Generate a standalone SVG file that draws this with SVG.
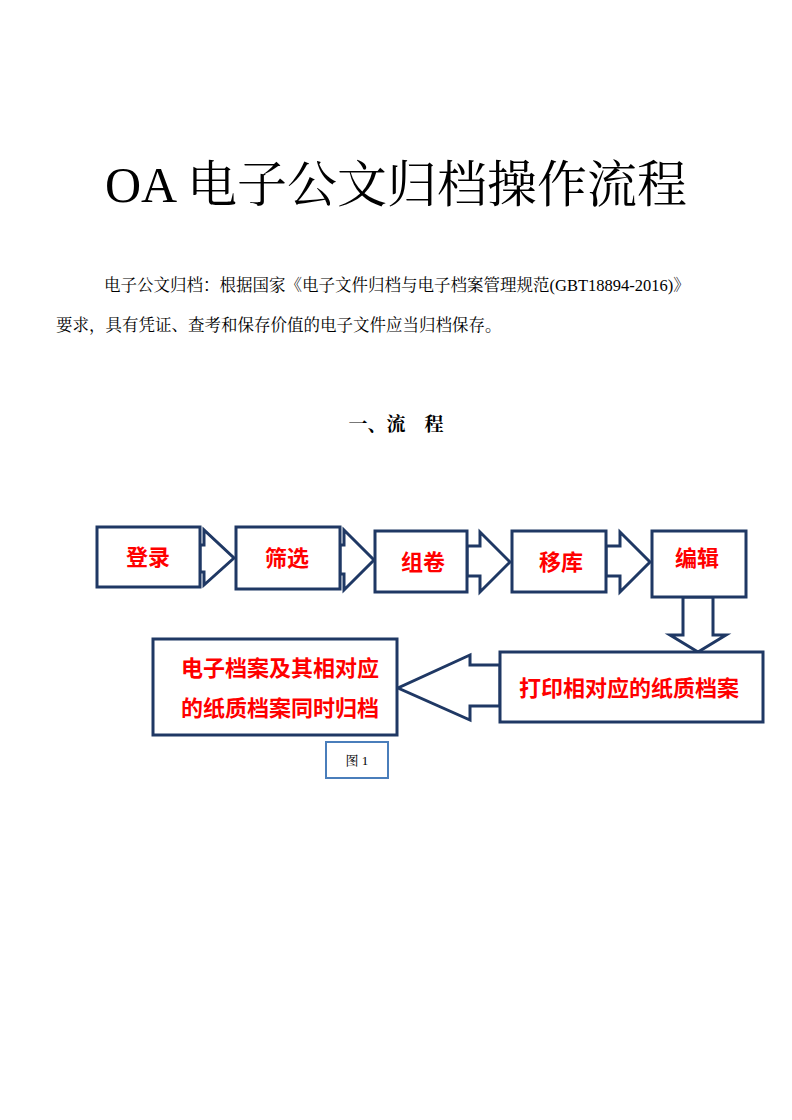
<svg xmlns="http://www.w3.org/2000/svg" width="792" height="1120" viewBox="0 0 792 1120">
<style>
.b{fill:#fff;stroke:#1f3864;stroke-width:3}
.t{font-family:"Liberation Sans","Noto Sans CJK SC",sans-serif;font-weight:bold;fill:#ff0000;font-size:22px;text-anchor:middle}
.s{font-family:"Liberation Serif","Noto Serif CJK SC","Noto Sans CJK SC",serif;fill:#000}
</style>
<rect width="792" height="1120" fill="#fff"/>
<text class="s" x="396" y="202" font-size="50" text-anchor="middle" font-family="Liberation Mono,Noto Sans CJK SC,monospace">OA 电子公文归档操作流程</text>
<text class="s" x="104" y="291" font-size="16.5">电子公文归档：根据国家《电子文件归档与电子档案管理规范(GBT18894-2016)》</text>
<text class="s" x="56" y="331" font-size="16.5">要求，具有凭证、查考和保存价值的电子文件应当归档保存。</text>
<text class="s" x="396" y="431" font-size="19" font-weight="bold" text-anchor="middle">一、流　程</text>
<g id="connectors">
<polygon class="b" points="200,545 204,545 204,530 234,558 204,585 204,572 200,572"/>
<polygon class="b" points="340,545 344,545 344,530 374,560 344,590 344,574 340,574"/>
<polygon class="b" points="467,546 480,546 480,532 510,562 480,592 480,576 467,576"/>
<polygon class="b" points="606,546 620,546 620,532 650,562 620,592 620,576 606,576"/>
<polygon class="b" points="683,597 713,597 713,635 726,635 698,652 670,635 683,635"/>
<polygon class="b" points="500,665 470,665 470,655 398,688 470,720 470,706 500,706"/>
</g>
<g id="n1"><rect class="b" x="97" y="527" width="103" height="60"/><text class="t" x="148" y="565">登录</text></g>
<g id="n2"><rect class="b" x="236" y="527" width="104" height="62"/><text class="t" x="287" y="566">筛选</text></g>
<g id="n3"><rect class="b" x="375" y="531" width="92" height="61"/><text class="t" x="423" y="570">组卷</text></g>
<g id="n4"><rect class="b" x="512" y="531" width="94" height="61"/><text class="t" x="561" y="570">移库</text></g>
<g id="n5"><rect class="b" x="652" y="531" width="94" height="66"/><text class="t" x="697" y="566">编辑</text></g>
<g id="n6"><rect class="b" x="500" y="652" width="263" height="70"/><text class="t" x="629" y="696">打印相对应的纸质档案</text></g>
<g id="n7"><rect class="b" x="153" y="639" width="244" height="96"/><text class="t" x="280" y="676">电子档案及其相对应</text><text class="t" x="280" y="716">的纸质档案同时归档</text></g>
<g id="fig"><rect x="326" y="742" width="62" height="36" fill="#fff" stroke="#4a7ebb" stroke-width="2"/><text class="s" x="357" y="765" font-size="13" text-anchor="middle">图 1</text></g>
</svg>
